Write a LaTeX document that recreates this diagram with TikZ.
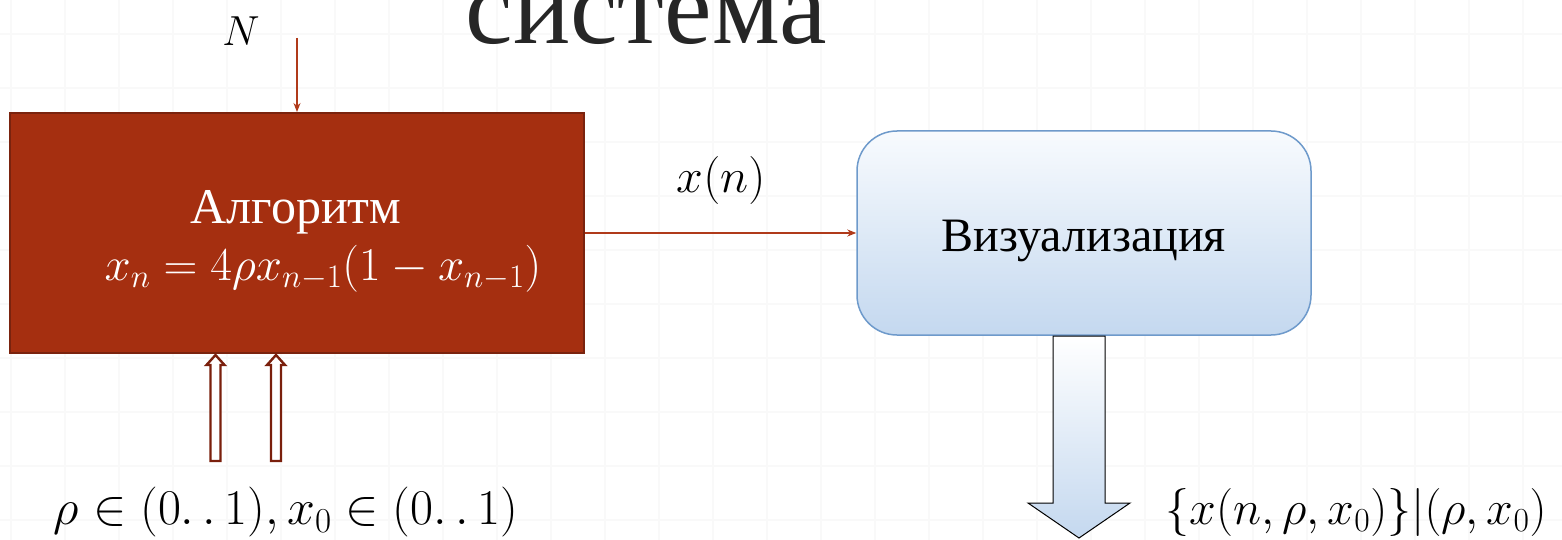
\RequirePackage{fix-cm}
\documentclass[tikz,border=0pt]{standalone}
\usepackage{fontspec}
\newfontfamily\rusfont{Liberation Serif}
\usetikzlibrary{arrows.meta}
\definecolor{algred}{HTML}{A52F10}
\definecolor{algborder}{HTML}{7A230E}
\definecolor{arrred}{HTML}{B03A1A}
\definecolor{dblred}{HTML}{7A1F0C}
\definecolor{visborder}{HTML}{6E9ACB}
\definecolor{vistop}{HTML}{F8FBFE}
\definecolor{visbot}{HTML}{C4D8EF}
\definecolor{gridc}{HTML}{F9F9F9}
\definecolor{titlec}{HTML}{262626}
\begin{document}
\begin{tikzpicture}[x=1pt,y=-1pt,
  algbox/.style={draw=algborder, line width=2pt, fill=algred, minimum width=574pt, minimum height=240pt, inner sep=0pt},
  visbox/.style={draw=visborder, line width=1.5pt, rounded corners=40pt, top color=vistop, bottom color=visbot, minimum width=454pt, minimum height=204pt, inner sep=0pt},
  thinarrow/.style={draw=arrred, line width=1.3pt, -{Stealth[length=9pt,width=7pt]}},
  hollowarrow/.style={draw=dblred, line width=2.4pt, fill=white, line join=miter},
  blockarrow/.style={draw=black, line width=1pt, top color=white, bottom color=visbot},
  mathlbl/.style={inner sep=0pt},
  gridline/.style={draw=gridc, line width=2.5pt}
]
\useasboundingbox (0,0) rectangle (1562,540);
\fill[white] (0,0) rectangle (1562,540);
% faint background grid
\foreach \k in {0,...,28} { \draw[gridline] (11+54*\k,0) -- (11+54*\k,540); }
\foreach \k in {0,...,9} { \draw[gridline] (0,34+54*\k) -- (1562,34+54*\k); }

% title
\node[anchor=base, inner sep=0pt, text=titlec, font=\rusfont\fontsize{107}{120}\selectfont] (title) at (646,44) {система};

% algorithm box
\node[algbox] (alg) at (297,233) {};
\node[inner sep=0pt, text=white, font=\rusfont\fontsize{50}{58}\selectfont, anchor=base] (algname) at (296,223) {Алгоритм};
\node[mathlbl, text=white, font=\fontsize{47}{56}\selectfont, anchor=base] (algeq) at (323,280) {$x_n = 4\rho x_{n-1}(1 - x_{n-1})$};

% N input
\node[mathlbl, font=\fontsize{42}{50}\selectfont] (nlbl) at (241,31) {$N$};
\coordinate (nstart) at (297,38);
\draw[thinarrow] (nstart) -- (alg.north);

% visualisation box
\node[visbox] (vis) at (1084,233) {};
\node[inner sep=0pt, font=\rusfont\fontsize{48}{56}\selectfont, anchor=base] (visname) at (1084,251) {Визуализация};

% x(n) connector
\draw[thinarrow] (alg.east) -- (vis.west);
\node[mathlbl, font=\fontsize{48}{56}\selectfont] (xnlbl) at (721,181) {$x(n)$};

% hollow input arrows
\foreach \cx/\nm in {215.5/a, 276/b} {
  \coordinate (in\nm) at (\cx,461);
  \draw[hollowarrow] (\cx-5,461) -- (\cx-5,365) -- (\cx-9,365) -- (\cx,355) -- (\cx+9,365) -- (\cx+5,365) -- (\cx+5,461) -- cycle;
}
\node[mathlbl, font=\fontsize{50}{58}\selectfont] (params) at (286,512) {$\rho \in (0.\,.\,1), x_0 \in (0.\,.\,1)$};

% output block arrow
\coordinate (outtop) at (1079,336);
\shadedraw[blockarrow] (1053,336) -- (1105,336) -- (1105,503) -- (1130,503) -- (1079,538) -- (1028,503) -- (1053,503) -- cycle;
\node[mathlbl, font=\fontsize{48}{56}\selectfont] (outlbl) at (1356,512) {$\{x(n,\rho,x_0)\}|(\rho,x_0)$};
\end{tikzpicture}
\end{document}
